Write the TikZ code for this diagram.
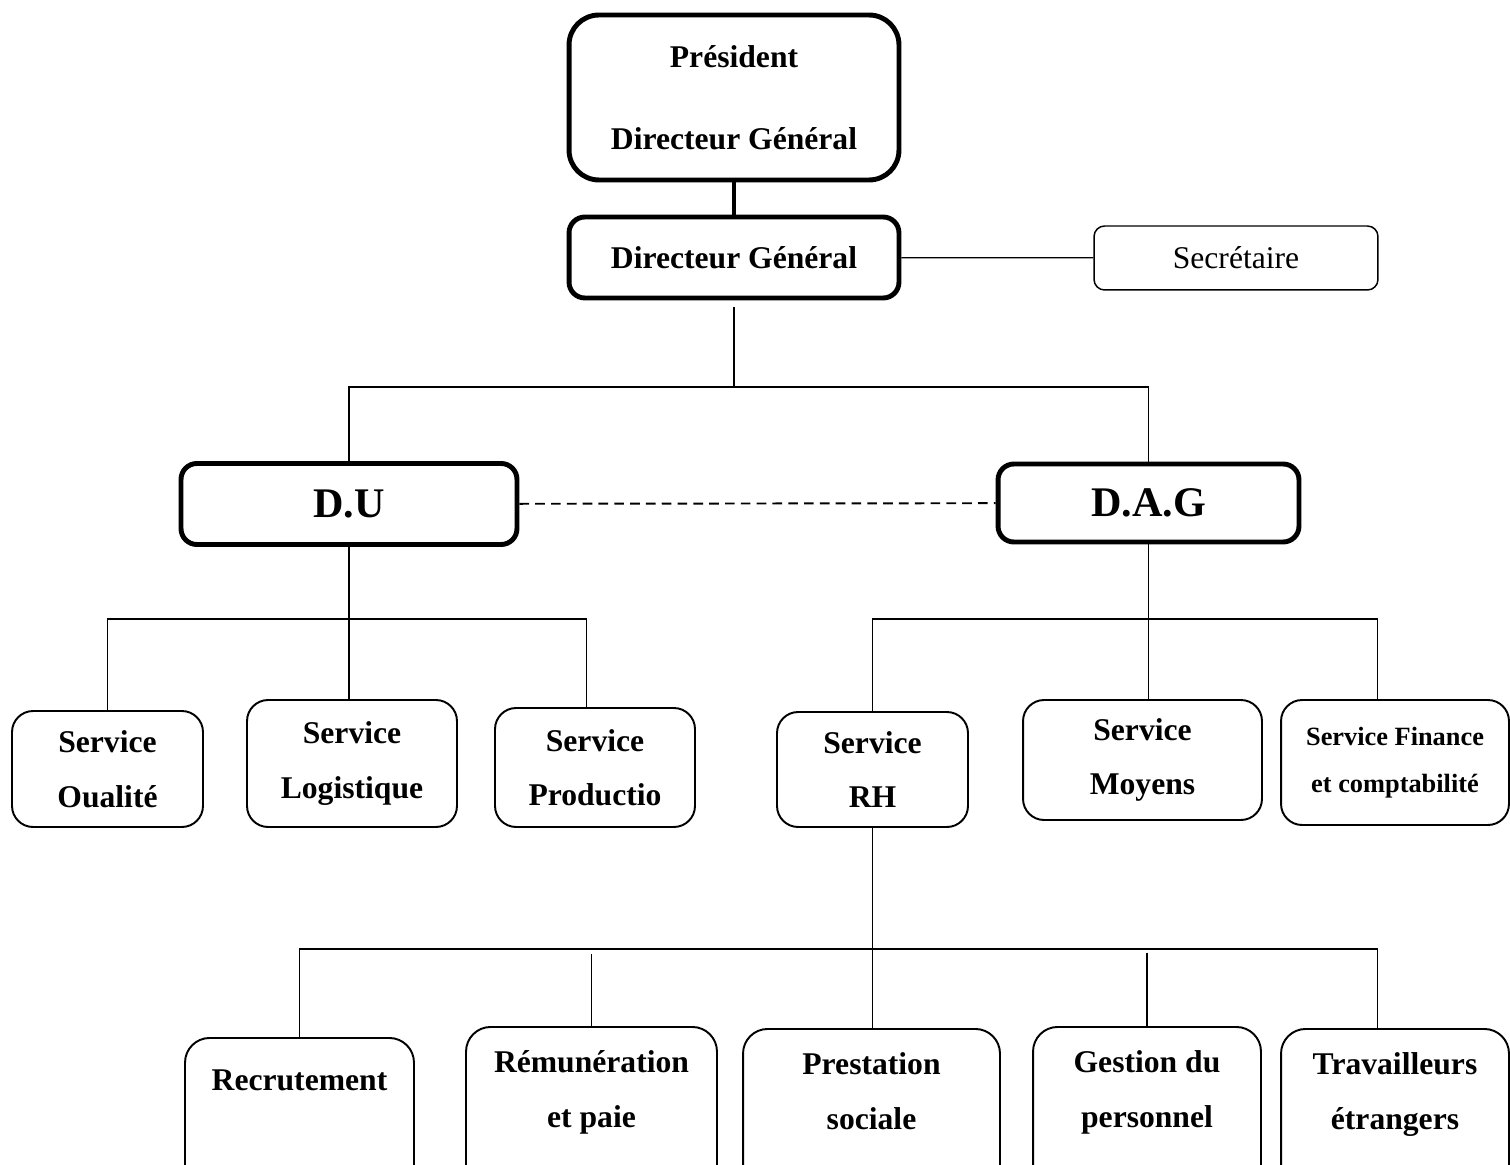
\documentclass[tikz,border=0pt]{standalone}
\usepackage{fontspec}
\setmainfont{Liberation Serif}
\begin{document}
\begin{tikzpicture}[x=0.02cm,y=-0.02cm]
  \tikzstyle{headbox}=[draw,rounded corners=9pt,line width=2.8pt,align=center,inner sep=0pt,font=\bfseries\fontsize{18}{31}\selectfont]
  \tikzstyle{servbox}=[draw,rounded corners=12pt,line width=1.1pt,align=center,inner sep=0pt,font=\bfseries\fontsize{18}{31}\selectfont]
  \tikzstyle{taskbox}=[servbox,rounded corners=14pt,anchor=north,inner ysep=13pt,text height=44pt,text depth=80pt]
  \tikzstyle{link}=[line width=0.7pt]
  \clip (0,0) rectangle (1510,1165);

  \node[headbox,rounded corners=17pt,minimum width=6.6cm,minimum height=3.3cm,font=\bfseries\fontsize{18}{46.5}\selectfont] (pres) at (734,97.5) {Président\\Directeur Général};
  \node[headbox,minimum width=6.6cm,minimum height=1.62cm] (dg) at (734,257.5) {Directeur Général};
  \node[draw,rounded corners=6pt,line width=0.85pt,inner sep=0pt,minimum width=5.68cm,minimum height=1.28cm,font=\fontsize{18}{22}\selectfont] (secr) at (1236,258) {Secrétaire};

  \node[headbox,minimum width=6.72cm,minimum height=1.62cm,font=\bfseries\fontsize{24}{29}\selectfont] (du) at (349,504) {D.U};
  \node[headbox,minimum width=6.02cm,minimum height=1.56cm,font=\bfseries\fontsize{24}{29}\selectfont] (dag) at (1148.5,503) {D.A.G};

  \node[servbox,minimum width=3.82cm,minimum height=2.32cm] (qual) at (107.5,769) {Service\\Oualité};
  \node[servbox,minimum width=4.2cm,minimum height=2.54cm] (log) at (352,763.5) {Service\\Logistique};
  \node[servbox,minimum width=4cm,minimum height=2.38cm] (prod) at (595,767.5) {Service\\Productio};
  \node[servbox,minimum width=3.82cm,minimum height=2.3cm] (rh) at (872.5,769.5) {Service\\RH};
  \node[servbox,minimum width=4.78cm,minimum height=2.4cm] (moy) at (1142.5,760) {Service\\Moyens};
  \node[servbox,minimum width=4.56cm,minimum height=2.5cm,font=\bfseries\fontsize{15}{26.6}\selectfont] (fin) at (1395,762.5) {Service Finance\\et comptabilité};

  \node[taskbox,text height=13pt,inner ysep=17pt,minimum width=4.58cm] (rec) at (299.5,1037) {Recrutement};
  \node[taskbox,minimum width=5.02cm] (rem) at (591.5,1026) {Rémunération\\et paie};
  \node[taskbox,minimum width=5.14cm] (pre) at (871.5,1028) {Prestation\\sociale};
  \node[taskbox,minimum width=4.56cm] (ges) at (1147,1026) {Gestion du\\personnel};
  \node[taskbox,minimum width=4.56cm] (tra) at (1395,1028) {Travailleurs\\étrangers};

  \coordinate (dgBus) at (734,387);
  \coordinate (duBus) at (352,619);
  \coordinate (dagBus) at (1145,619);
  \coordinate (rhBus) at (871,949);

  \draw[line width=2.8pt] (pres) -- (dg);
  \draw[link] (dg) -- (secr);
  \draw[link,shorten <=4pt] (dg.south) -- (dgBus);
  \draw[link] (du.north) |- (dgBus) -| (dag.north);
  \draw[line width=1.1pt,dash pattern=on 5.5pt off 3.5pt] (du) -- (dag);

  \draw[link] (du.south) -- (du.south |- log.north);
  \draw[link] (qual.north) |- (duBus) -| ([xshift=-5pt]prod.north);

  \draw[link] (dag.south) -- (dag.south |- moy.north);
  \draw[link] (rh.north) |- (dagBus) -| ([xshift=-10pt]fin.north);

  \draw[link] (rh.south) -- (rh.south |- pre.north);
  \draw[line width=1pt] (rec.north) |- (rhBus) -| ([xshift=-10pt]tra.north);
  \draw[link,shorten <=3pt] (rem.north |- rhBus) -- (rem.north);
  \draw[link,shorten <=2pt] (ges.north |- rhBus) -- (ges.north);
\end{tikzpicture}
\end{document}
